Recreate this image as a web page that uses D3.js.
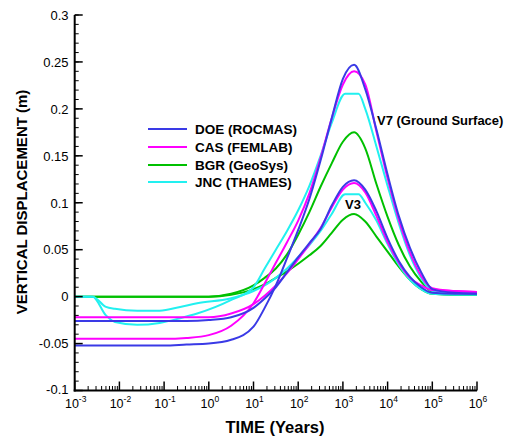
<!DOCTYPE html>
<html><head><meta charset="utf-8">
<script src="https://cdn.jsdelivr.net/npm/d3@7"></script>
<style>body{margin:0;background:#fff}svg{display:block}text{font-family:Arial,"Liberation Sans",sans-serif}</style>
</head><body>
<script>
// ---- data (time in log10 years, displacement in m) ----
const xTickExps = [-3,-2,-1,0,1,2,3,4,5,6];
const yTickVals = [-0.1,-0.05,0,0.05,0.1,0.15,0.2,0.25,0.3];
const yTickLabels = ["-0.1","-0.05","0","0.05","0.1","0.15","0.2","0.25","0.3"];
const seriesNames = ["DOE (ROCMAS)","CAS (FEMLAB)","BGR (GeoSys)","JNC (THAMES)"];
const seriesColors = ["#3a3ae6","#ff00ff","#00c000","#22f0f0"];

const gridA = [-3,-2,-1,-0.5,0,0.5,1,1.25,1.5,1.75,2,2.25,2.5,2.75,3,3.25,3.5,3.75,4,4.25,4.5,4.75,5,5.5,6];
const v7Doe = [-0.052,-0.052,-0.052,-0.051,-0.050,-0.046,-0.032,-0.012,0.012,0.041,0.071,0.104,0.145,0.19,0.232,0.247,0.221,0.178,0.13,0.086,0.052,0.026,0.008,0.004,0.003];
const v7Cas = [-0.045,-0.045,-0.045,-0.044,-0.041,-0.031,-0.007,0.014,0.036,0.058,0.081,0.11,0.148,0.19,0.226,0.240,0.226,0.176,0.126,0.082,0.047,0.022,0.009,0.006,0.005];
const v7Bgr = [0,0,0,0,0,0.003,0.012,0.02,0.03,0.045,0.066,0.09,0.117,0.142,0.165,0.175,0.158,0.12,0.085,0.055,0.032,0.016,0.005,0.002,0.002];
const v3Doe = [-0.026,-0.026,-0.026,-0.026,-0.025,-0.022,-0.012,-0.002,0.01,0.026,0.042,0.057,0.072,0.097,0.117,0.124,0.114,0.091,0.062,0.038,0.021,0.01,0.004,0.003,0.003];
const v3Cas = [-0.022,-0.022,-0.022,-0.022,-0.022,-0.018,-0.008,0.001,0.012,0.025,0.04,0.056,0.073,0.095,0.114,0.121,0.111,0.086,0.058,0.036,0.02,0.012,0.007,0.006,0.005];
const v3Bgr = [0,0,0,0,0,0.002,0.008,0.013,0.02,0.027,0.035,0.044,0.054,0.068,0.082,0.088,0.080,0.064,0.048,0.032,0.018,0.008,0.003,0.002,0.002];

const gridJ = [-3,-2.6,-2.3,-2.1,-1.6,-1.1,-0.64,-0.26,0.48,1,1.25,1.5,1.75,2,2.25,2.5,2.75,3.05,3.35,3.5,3.75,4,4.25,4.5,4.75,5,5.5,6];
const v7Jnc = [0,0,-0.020,-0.027,-0.030,-0.028,-0.023,-0.018,-0.004,0.010,0.03,0.05,0.07,0.092,0.118,0.15,0.185,0.216,0.216,0.2,0.16,0.118,0.078,0.044,0.02,0.006,0.003,0.003];
const v3Jnc = [0,0,-0.011,-0.013,-0.015,-0.015,-0.011,-0.007,-0.002,0.006,0.012,0.02,0.03,0.042,0.055,0.07,0.088,0.109,0.109,0.1,0.081,0.056,0.034,0.018,0.008,0.003,0.002,0.002];

const curves = [
  {grid:gridA, vals:v7Doe, c:0},{grid:gridA, vals:v7Cas, c:1},{grid:gridA, vals:v7Bgr, c:2},{grid:gridJ, vals:v7Jnc, c:3},
  {grid:gridA, vals:v3Doe, c:0},{grid:gridA, vals:v3Cas, c:1},{grid:gridA, vals:v3Bgr, c:2},{grid:gridJ, vals:v3Jnc, c:3}
];

// ---- drawing ----
const W=507,H=441;
const svg=d3.select("body").append("svg").attr("width",W).attr("height",H);
const x=d3.scaleLog().domain([1e-3,1e6]).range([74.7,477]);
const y=d3.scaleLinear().domain([-0.1,0.3]).range([390.5,15]);

const line=d3.line().x(d=>x(Math.pow(10,d[0]))).y(d=>y(d[1])).curve(d3.curveMonotoneX);
const order=[2,6,3,7,1,5,0,4];
order.forEach(i=>{
  const cv=curves[i];
  svg.append("path").attr("d",line(cv.grid.map((g,k)=>[g,cv.vals[k]])))
    .attr("fill","none").attr("stroke",seriesColors[cv.c]).attr("stroke-width",2);
});

// axes
const ax=svg.append("g");
d3.range(-0.1,0.3001,0.01).forEach(v=>{
  ax.append("line").attr("x1",x(1e-3)).attr("x2",x(1e-3)+4).attr("y1",y(v)).attr("y2",y(v)).attr("stroke","#000").attr("stroke-width",1);
});
yTickVals.forEach((v,i)=>{
  ax.append("line").attr("x1",x(1e-3)).attr("x2",x(1e-3)+8).attr("y1",y(v)).attr("y2",y(v)).attr("stroke","#000").attr("stroke-width",1.5);
  ax.append("text").attr("x",68.5).attr("y",y(v)+(v===-0.1?3.5:4.8)).attr("text-anchor","end").attr("font-size",13).text(yTickLabels[i]);
});
xTickExps.forEach((e,i)=>{
  const xv=x(Math.pow(10,e));
  ax.append("line").attr("x1",xv).attr("x2",xv).attr("y1",y(-0.1)).attr("y2",y(-0.1)-9).attr("stroke","#000").attr("stroke-width",1.5);
  if(i<xTickExps.length-1){
    for(let m=2;m<10;m++){
      const xm=x(m*Math.pow(10,e));
      ax.append("line").attr("x1",xm).attr("x2",xm).attr("y1",y(-0.1)).attr("y2",y(-0.1)-4.5).attr("stroke","#000").attr("stroke-width",1);
    }
  }
  const t=ax.append("text").attr("x",xv+1).attr("y",408).attr("text-anchor","middle").attr("font-size",12.5);
  t.append("tspan").text("10");
  t.append("tspan").attr("dy",-6).attr("font-size",8.5).text(String(e));
});
ax.append("line").attr("x1",x(1e-3)).attr("x2",x(1e-3)).attr("y1",y(0.3)).attr("y2",y(-0.1)+1).attr("stroke","#000").attr("stroke-width",2);
ax.append("line").attr("x1",x(1e-3)-1).attr("x2",x(1e6)).attr("y1",y(-0.1)).attr("y2",y(-0.1)).attr("stroke","#000").attr("stroke-width",2);

// axis titles
svg.append("text").attr("transform","translate(27,202) rotate(-90)").attr("text-anchor","middle")
  .attr("font-size",15).attr("font-weight","bold").text("VERTICAL DISPLACEMENT (m)");
svg.append("text").attr("x",275).attr("y",433).attr("text-anchor","middle")
  .attr("font-size",16.5).attr("font-weight","bold").text("TIME (Years)");

// legend
const legY=[129,147,165,182];
seriesNames.forEach((n,i)=>{
  svg.append("line").attr("x1",148).attr("x2",187).attr("y1",legY[i]).attr("y2",legY[i]).attr("stroke",seriesColors[i]).attr("stroke-width",2);
  svg.append("text").attr("x",195).attr("y",legY[i]+5).attr("font-size",13.5).attr("font-weight","bold").text(n);
});

// annotations
svg.append("text").attr("x",377).attr("y",125).attr("font-size",13).attr("font-weight","bold").text("V7 (Ground Surface)");
svg.append("text").attr("x",345).attr("y",208.5).attr("font-size",13).attr("font-weight","bold").text("V3");
</script>
</body></html>
